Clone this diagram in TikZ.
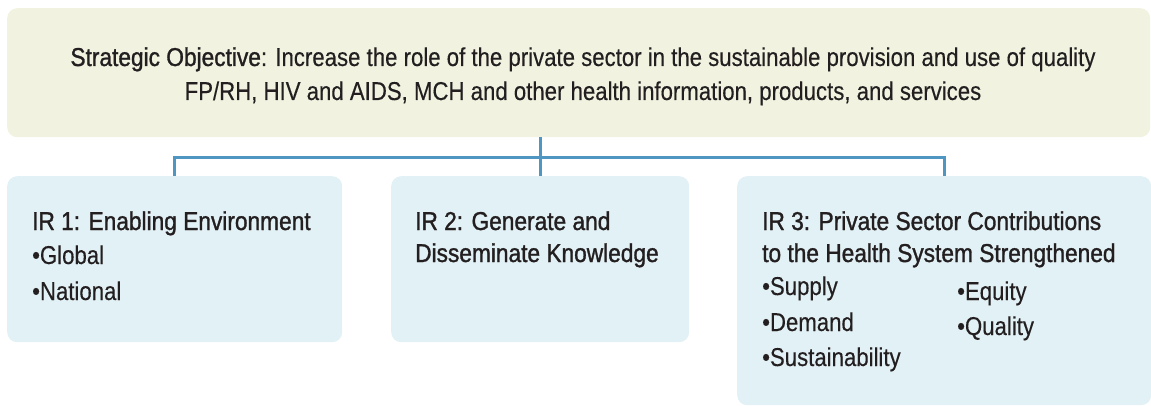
\documentclass[tikz,border=0pt]{standalone}
\usepackage{fontspec}
\setmainfont{Liberation Sans}[FakeStretch=0.86,FakeBold=0.3]
\newfontfamily\headfont{Liberation Sans}[FakeStretch=0.88,FakeBold=1.2]
\usetikzlibrary{positioning}

\definecolor{sofill}{RGB}{241,243,224}
\definecolor{irfill}{RGB}{226,241,245}
\definecolor{linkblue}{RGB}{79,151,194}
\definecolor{ink}{RGB}{35,31,32}

\tikzset{
    sobox/.style={fill=sofill, rounded corners=10pt, inner sep=0pt, anchor=north west},
    irbox/.style={fill=irfill, rounded corners=10pt, inner sep=0pt, anchor=north west},
    link/.style={draw=linkblue, line width=3pt},
    txt/.style={inner sep=0pt, text=ink, font=\fontsize{25.8}{30}\selectfont},
    head/.style={txt, font=\fontsize{25.8}{30}\headfont}
}

\begin{document}
\begin{tikzpicture}[x=1pt,y=-1pt]
    \useasboundingbox (0,0) rectangle (1151,406);

    % draw boxes
    \node[sobox, minimum width=1143pt, minimum height=129pt] (so) at (7,8) {};
    \node[irbox, minimum width=335pt, minimum height=166pt] (ir1) at (7,176) {};
    \node[irbox, minimum width=298pt, minimum height=166pt] (ir2) at (391,176) {};
    \node[irbox, minimum width=414pt, minimum height=229pt] (ir3) at (737,176) {};

    % draw connectors
    \draw[link] (ir2.north) -- (ir2.north |- so.south);
    \draw[link] (ir1.north) -- ++(0,-18) -| (ir3.north);

    % strategic objective
    \node[txt, anchor=base] (so1) at (583,66) {{\headfont Strategic Objective}: Increase the role of the private sector in the sustainable provision and use of quality};
    \node[txt, anchor=base] (so2) at (583,100) {FP/RH, HIV and AIDS, MCH and other health information, products, and services};

    % headings
    \node[head, anchor=base west] (h1) at (32,230) {IR 1: Enabling Environment};
    \node[head, anchor=base west] (h2a) at (415,230) {IR 2: Generate and};
    \node[head, anchor=base west] (h2b) at (415,262) {Disseminate Knowledge};
    \node[head, anchor=base west] (h3a) at (762,230) {IR 3: Private Sector Contributions};
    \node[head, anchor=base west] (h3b) at (762,262) {to the Health System Strengthened};

    % bullets
    \foreach \y/\t in {264/Global, 300/National}
    \node[txt, anchor=base west] (b1\t) at (32,\y) {\textbullet\t};
    \foreach \y/\t in {295/Supply, 331/Demand, 366/Sustainability}
    \node[txt, anchor=base west] (b3\t) at (762,\y) {\textbullet\t};
    \foreach \y/\t in {300/Equity, 335/Quality}
    \node[txt, anchor=base west] (b3\t) at (957,\y) {\textbullet\t};
\end{tikzpicture}
\end{document}
